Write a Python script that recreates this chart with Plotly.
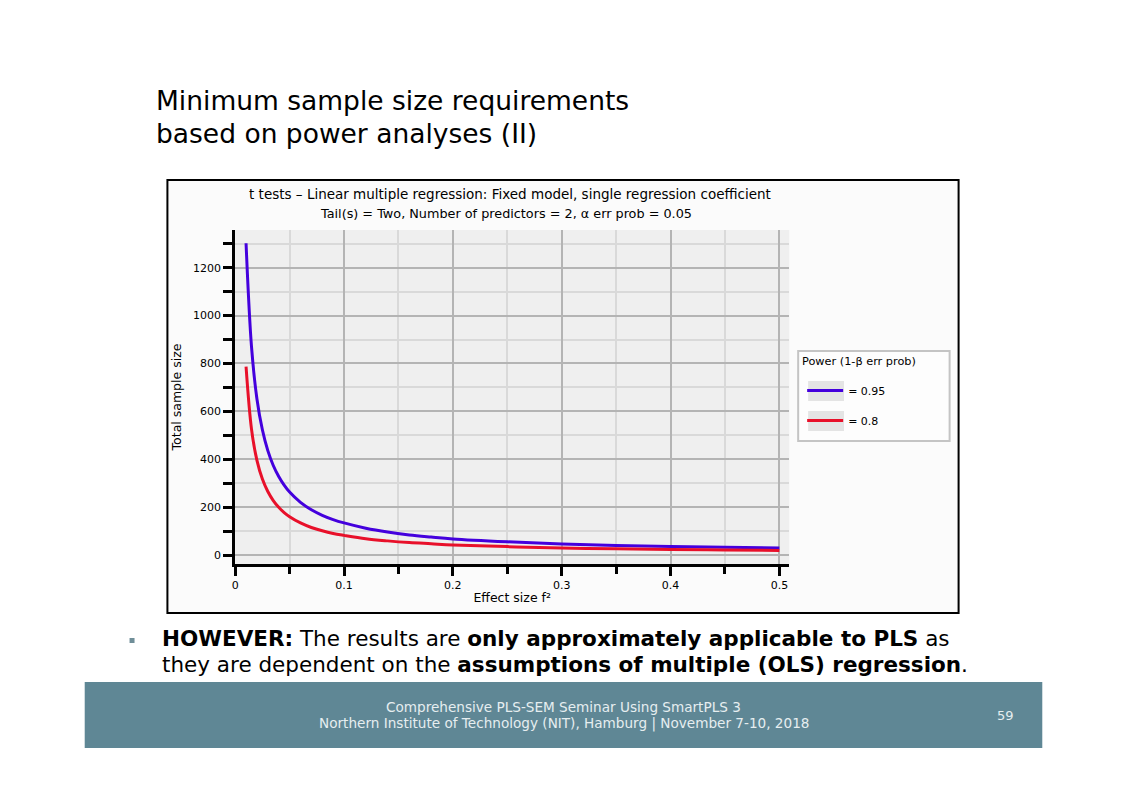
import plotly.graph_objects as go

W, H = 1123, 794

# ---- data ----
effect_size = [0.01, 0.015, 0.02, 0.025, 0.03, 0.035, 0.04, 0.045, 0.05, 0.06, 0.07, 0.08, 0.09,
               0.10, 0.12, 0.14, 0.16, 0.18, 0.20, 0.25, 0.30, 0.35, 0.40, 0.45, 0.50]
n_power_095 = [1302, 870, 652, 523, 436, 374, 328, 292, 263, 220, 189, 166, 148,
               134, 112, 96, 84, 75, 67, 55, 46, 40, 35, 32, 29]
n_power_080 = [787, 526, 395, 317, 265, 227, 199, 177, 160, 134, 115, 101, 90,
               82, 68, 59, 52, 47, 42, 35, 29, 26, 23, 21, 19]
series_names = ["= 0.95", "= 0.8"]
x_ticks = [0, 0.1, 0.2, 0.3, 0.4, 0.5]
x_tick_labels = ["0", "0.1", "0.2", "0.3", "0.4", "0.5"]
y_ticks = [0, 200, 400, 600, 800, 1000, 1200]


def px(x):
    return x / W


def py(y):
    return 1 - y / H


FONT = "DejaVu Sans"
fig = go.Figure()
fig.add_trace(go.Scatter(x=effect_size, y=n_power_095, mode="lines", name=series_names[0],
                         legendgroup="a", line=dict(color="#4400dd", width=3, shape="spline")))
fig.add_trace(go.Scatter(x=effect_size, y=n_power_080, mode="lines", name=series_names[1],
                         legendgroup="b", line=dict(color="#e8102a", width=3, shape="spline")))

axis_common = dict(showline=True, linecolor="black", linewidth=3, ticks="outside",
                   ticklen=9, tickwidth=3, tickcolor="black", zeroline=False,
                   tickfont=dict(family=FONT, size=11, color="black"),
                   gridcolor="#b4b4b4", gridwidth=2)

fig.update_xaxes(domain=[px(232), px(788)], range=[0, 0.509], tickvals=x_ticks,
                 ticktext=x_tick_labels, anchor="y",
                 minor=dict(dtick=0.05, tick0=0, ticks="outside", ticklen=7, tickwidth=3,
                            tickcolor="black", showgrid=True, gridcolor="#d9d9d9", gridwidth=2),
                 title=dict(text="Effect size f²", font=dict(family=FONT, size=12.5, color="black"),
                            standoff=3),
                 **axis_common)
fig.update_yaxes(domain=[py(564), py(230)], range=[-37.6, 1357.6], tickvals=y_ticks,
                 anchor="x",
                 minor=dict(dtick=100, tick0=0, ticks="outside", ticklen=9, tickwidth=3,
                            tickcolor="black", showgrid=True, gridcolor="#d9d9d9", gridwidth=2),
                 title=dict(text="Total sample size", font=dict(family=FONT, size=12.5, color="black"),
                            standoff=9),
                 **axis_common)

shapes = [
    # chart frame
    dict(type="rect", xref="paper", yref="paper", x0=px(164), x1=px(958), y0=py(613), y1=py(180),
         line=dict(color="black", width=2), fillcolor="#fbfbfb", layer="below"),
    # plot area background
    dict(type="rect", xref="x domain", yref="y domain", x0=0, x1=1, y0=0, y1=1,
         line=dict(width=0), fillcolor="#efefef", layer="below"),
    # legend box
    dict(type="rect", xref="paper", yref="paper", x0=px(797), x1=px(949), y0=py(441), y1=py(351),
         line=dict(color="#c4c4c4", width=2), fillcolor="#fdfdfd", layer="above"),
    dict(type="rect", xref="paper", yref="paper", x0=px(807), x1=px(843), y0=py(401), y1=py(381),
         line=dict(width=0), fillcolor="#e4e4e4", layer="above"),
    dict(type="rect", xref="paper", yref="paper", x0=px(807), x1=px(843), y0=py(431), y1=py(411),
         line=dict(width=0), fillcolor="#e4e4e4", layer="above"),
    # footer band
    dict(type="rect", xref="paper", yref="paper", x0=px(81), x1=px(1042), y0=py(748), y1=py(682),
         line=dict(width=0), fillcolor="#5f8795", layer="below"),
    # bullet
    dict(type="rect", xref="paper", yref="paper", x0=px(126), x1=px(131), y0=py(643), y1=py(638),
         line=dict(width=0), fillcolor="#6f8e98", layer="below"),
]

annotations = [
    dict(text="Minimum sample size requirements", x=px(151), y=py(101), xanchor="left",
         yanchor="middle", font=dict(family=FONT, size=26.5, color="black")),
    dict(text="based on power analyses (II)", x=px(151), y=py(133), xanchor="left",
         yanchor="middle", font=dict(family=FONT, size=26.5, color="black")),
    dict(text="t tests – Linear multiple regression: Fixed model, single regression coefficient",
         x=px(508), y=py(194), xanchor="center", yanchor="middle",
         font=dict(family=FONT, size=13.5, color="black")),
    dict(text="Tail(s) = Two, Number of predictors = 2, α err prob = 0.05",
         x=px(504), y=py(213), xanchor="center", yanchor="middle",
         font=dict(family=FONT, size=12.8, color="black")),
    dict(text="Power (1-β err prob)", x=px(799), y=py(361), xanchor="left", yanchor="middle",
         font=dict(family=FONT, size=11.3, color="black")),
    dict(text="<b>HOWEVER:</b> The results are <b>only approximately applicable to PLS</b> as",
         x=px(157), y=py(638), xanchor="left", yanchor="middle",
         font=dict(family=FONT, size=21.5, color="black")),
    dict(text="they are dependent on the <b>assumptions of multiple (OLS) regression</b>.",
         x=px(157), y=py(664), xanchor="left", yanchor="middle",
         font=dict(family=FONT, size=21.5, color="black")),
    dict(text="Comprehensive PLS-SEM Seminar Using SmartPLS 3", x=px(562), y=py(707),
         xanchor="center", yanchor="middle", font=dict(family=FONT, size=13.6, color="#e6eef0")),
    dict(text="Northern Institute of Technology (NIT), Hamburg | November 7-10, 2018", x=px(562),
         y=py(723), xanchor="center", yanchor="middle", font=dict(family=FONT, size=13.6, color="#e6eef0")),
    dict(text="59", x=px(1005), y=py(715), xanchor="center", yanchor="middle",
         font=dict(family=FONT, size=13, color="#e6eef0")),
]
for a in annotations:
    a.update(xref="paper", yref="paper", showarrow=False)

fig.update_layout(
    width=W, height=H, margin=dict(l=0, r=0, t=0, b=0),
    paper_bgcolor="white", plot_bgcolor="rgba(0,0,0,0)",
    shapes=shapes, annotations=annotations,
    showlegend=True,
    legend=dict(x=px(801), y=py(376), xanchor="left", yanchor="top",
                bgcolor="rgba(0,0,0,0)", borderwidth=0,
                font=dict(family=FONT, size=11, color="black"),
                traceorder="grouped", tracegroupgap=11, itemwidth=36),
)

fig.write_html("out.html")
